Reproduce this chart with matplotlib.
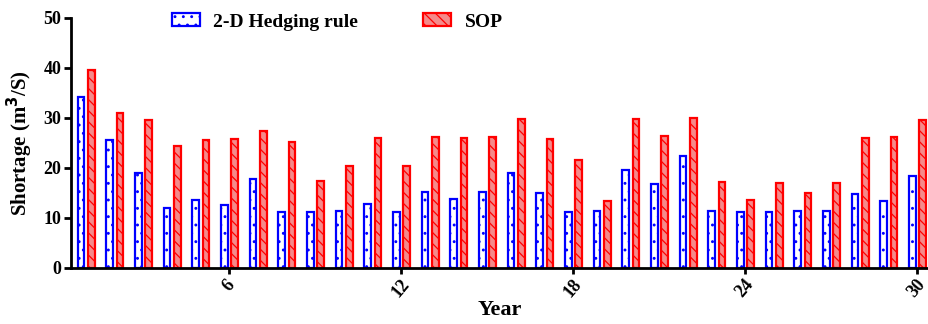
import numpy as np
import matplotlib
matplotlib.use('Agg')
import matplotlib.pyplot as plt

years = np.arange(1, 31)
hedging = [34.3, 25.7, 19.1, 12.0, 13.6, 12.6, 17.9, 11.3, 11.3, 11.4,
           12.8, 11.3, 15.3, 13.8, 15.2, 19.0, 15.0, 11.3, 11.4, 19.6,
           16.9, 22.4, 11.4, 11.3, 11.3, 11.4, 11.4, 14.9, 13.5, 18.5]
sop = [39.7, 31.1, 29.6, 24.4, 25.7, 25.9, 27.5, 25.2, 17.4, 20.4,
       26.0, 20.5, 26.3, 26.1, 26.2, 29.9, 25.9, 21.7, 13.5, 29.9,
       26.5, 30.1, 17.2, 13.7, 17.0, 15.1, 17.1, 26.0, 26.3, 29.6]
xticks = [6, 12, 18, 24, 30]

plt.rcParams['font.family'] = ['Liberation Serif', 'DejaVu Serif']
plt.rcParams['font.weight'] = 'bold'
plt.rcParams['hatch.linewidth'] = 0.9

fig = plt.figure(figsize=(9.29, 3.24), dpi=100)
ax = fig.add_axes([71/929, 56/324, 858/929, 250/324])

w = 0.24
ax.bar(years - 0.15, hedging, w, facecolor='white', edgecolor='blue',
       linewidth=1.6, hatch='..', label='2-D Hedging rule')
ax.bar(years + 0.21, sop, w, facecolor='#f58a8a', edgecolor='red',
       linewidth=1.6, hatch='\\\\\\', label='SOP')

ax.set_xlim(0.5, 30.43)
ax.set_ylim(0, 50)
ax.set_yticks(range(0, 51, 10))
ax.set_xticks(xticks)
ax.set_xticklabels([str(t) for t in xticks], rotation=50, fontsize=13, fontweight='bold')
ax.tick_params(axis='y', labelsize=13, width=2, length=5, pad=2)
ax.tick_params(axis='x', width=2, length=4, pad=2)
for s in ['top', 'right']:
    ax.spines[s].set_visible(False)
for s in ['left', 'bottom']:
    ax.spines[s].set_linewidth(2)

ax.set_ylabel('Shortage (m$^\\mathbf{3}$/S)', fontsize=15, fontweight='bold', labelpad=6)
ax.set_xlabel('Year', fontsize=16, fontweight='bold', labelpad=-1)

fig.legend(loc='center left', bbox_to_anchor=(172/929, 1 - 22/324), ncol=2, frameon=False,
           fontsize=14, handlelength=1.45, handleheight=0.62, handletextpad=0.67,
           columnspacing=3.35, borderpad=0, borderaxespad=0)

fig.savefig('out.png', dpi=100)
